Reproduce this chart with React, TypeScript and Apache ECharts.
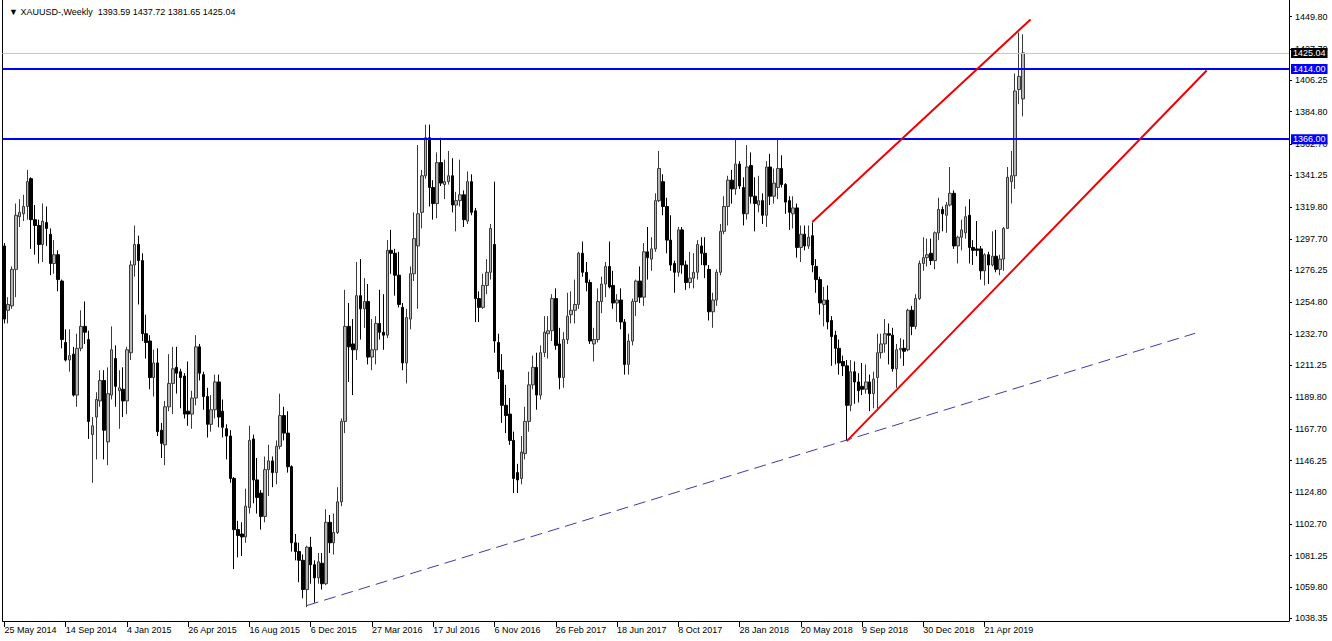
import React, { useEffect, useRef } from "react";
import * as echarts from "echarts";

// Weekly XAUUSD candles [open, high, low, close], first week = 25 May 2014
const w2014 = [
  [1293, 1295, 1240, 1243], [1249, 1258, 1240, 1253], [1252, 1279, 1250, 1277], [1277, 1322, 1258, 1314],
  [1313, 1325, 1306, 1316], [1315, 1328, 1310, 1320], [1320, 1345, 1311, 1337], [1339, 1340, 1291, 1311],
  [1311, 1321, 1287, 1307], [1307, 1311, 1281, 1294], [1294, 1322, 1282, 1310], [1309, 1320, 1293, 1305],
  [1301, 1305, 1273, 1281], [1281, 1297, 1274, 1287], [1287, 1290, 1262, 1270], [1269, 1270, 1223, 1229],
  [1227, 1236, 1214, 1215], [1215, 1236, 1207, 1218], [1219, 1224, 1190, 1191], [1191, 1233, 1183, 1223],
  [1223, 1249, 1221, 1238], [1238, 1255, 1226, 1234], [1229, 1235, 1161, 1173], [1164, 1176, 1131, 1170],
  [1176, 1193, 1147, 1188], [1187, 1208, 1183, 1201], [1201, 1208, 1147, 1167], [1159, 1210, 1143, 1192],
  [1191, 1238, 1188, 1222], [1216, 1225, 1183, 1197], [1194, 1208, 1168, 1196], [1195, 1210, 1176, 1187],
];
const w2015 = [
  [1187, 1224, 1178, 1222], [1220, 1283, 1215, 1280], [1280, 1307, 1272, 1294], [1294, 1300, 1253, 1283],
  [1283, 1288, 1228, 1233], [1233, 1246, 1216, 1227], [1228, 1232, 1195, 1203], [1203, 1222, 1190, 1213],
  [1213, 1223, 1163, 1166], [1167, 1172, 1148, 1158], [1157, 1187, 1143, 1183], [1183, 1219, 1180, 1199],
  [1199, 1224, 1178, 1209], [1210, 1224, 1192, 1206], [1207, 1209, 1182, 1203], [1204, 1206, 1175, 1178],
  [1180, 1214, 1170, 1178], [1178, 1194, 1168, 1189], [1189, 1232, 1184, 1224], [1224, 1226, 1201, 1206],
  [1205, 1207, 1181, 1190], [1190, 1196, 1162, 1171], [1171, 1191, 1166, 1181], [1181, 1205, 1175, 1200],
  [1200, 1205, 1169, 1176], [1180, 1188, 1162, 1169], [1168, 1171, 1147, 1163], [1163, 1167, 1131, 1134],
  [1134, 1135, 1072, 1099], [1099, 1105, 1080, 1095], [1096, 1104, 1081, 1094], [1094, 1127, 1090, 1115],
  [1114, 1170, 1110, 1160], [1161, 1164, 1117, 1133], [1133, 1148, 1110, 1121], [1124, 1126, 1099, 1108],
  [1108, 1149, 1104, 1140], [1140, 1157, 1122, 1146], [1146, 1149, 1128, 1138], [1138, 1160, 1130, 1156],
  [1156, 1192, 1154, 1177], [1177, 1183, 1160, 1165], [1165, 1180, 1138, 1142], [1142, 1143, 1084, 1090],
  [1090, 1096, 1078, 1084], [1084, 1090, 1063, 1078], [1078, 1082, 1052, 1058], [1058, 1088, 1046, 1087],
  [1087, 1094, 1062, 1075], [1075, 1078, 1049, 1066], [1066, 1083, 1062, 1077], [1076, 1083, 1058, 1062],
];
const w2016 = [
  [1062, 1113, 1061, 1104], [1104, 1109, 1083, 1090], [1090, 1110, 1082, 1097], [1097, 1128, 1096, 1118],
  [1118, 1175, 1115, 1173], [1173, 1263, 1165, 1238], [1238, 1254, 1200, 1224], [1226, 1243, 1191, 1222],
  [1222, 1282, 1215, 1259], [1259, 1284, 1229, 1250], [1250, 1271, 1237, 1255], [1255, 1267, 1212, 1217],
  [1217, 1243, 1208, 1222], [1222, 1245, 1212, 1240], [1240, 1263, 1229, 1234], [1234, 1260, 1222, 1232],
  [1232, 1297, 1230, 1290], [1290, 1304, 1274, 1288], [1288, 1291, 1259, 1273], [1273, 1289, 1251, 1253],
  [1251, 1254, 1208, 1213], [1213, 1250, 1199, 1244], [1243, 1279, 1236, 1274], [1274, 1316, 1269, 1298],
  [1293, 1362, 1250, 1315], [1316, 1345, 1305, 1341], [1341, 1376, 1339, 1367], [1367, 1376, 1320, 1333],
  [1333, 1338, 1311, 1322], [1322, 1357, 1312, 1350], [1350, 1367, 1334, 1336], [1335, 1352, 1325, 1337],
  [1337, 1358, 1335, 1341], [1341, 1353, 1316, 1321], [1321, 1330, 1303, 1324], [1324, 1352, 1320, 1328],
  [1328, 1331, 1306, 1311], [1310, 1344, 1308, 1337], [1337, 1342, 1314, 1316], [1317, 1319, 1241, 1257],
  [1257, 1262, 1241, 1251], [1251, 1274, 1250, 1266], [1266, 1284, 1260, 1275], [1275, 1308, 1270, 1305],
  [1294, 1337, 1220, 1228], [1227, 1233, 1202, 1207], [1208, 1219, 1172, 1184], [1184, 1198, 1165, 1177],
  [1178, 1189, 1157, 1160], [1160, 1166, 1124, 1134], [1138, 1144, 1124, 1133], [1134, 1163, 1130, 1152],
];
const w2017 = [
  [1151, 1183, 1147, 1173], [1173, 1207, 1166, 1198], [1198, 1218, 1195, 1210], [1210, 1220, 1181, 1191],
  [1191, 1225, 1188, 1220], [1220, 1245, 1217, 1234], [1233, 1245, 1216, 1235], [1235, 1260, 1228, 1257],
  [1257, 1264, 1222, 1225], [1226, 1237, 1195, 1203], [1203, 1234, 1196, 1229], [1229, 1261, 1226, 1245],
  [1246, 1262, 1240, 1249], [1249, 1270, 1240, 1253], [1253, 1289, 1250, 1288], [1288, 1296, 1272, 1275],
  [1275, 1282, 1262, 1268], [1268, 1270, 1226, 1228], [1226, 1237, 1214, 1229], [1229, 1264, 1227, 1255],
  [1255, 1272, 1247, 1267], [1267, 1282, 1258, 1279], [1279, 1296, 1264, 1265], [1266, 1276, 1250, 1254],
  [1254, 1260, 1241, 1256], [1256, 1264, 1236, 1241], [1241, 1243, 1205, 1212], [1212, 1233, 1205, 1228],
  [1228, 1257, 1225, 1255], [1255, 1270, 1245, 1269], [1269, 1279, 1254, 1258], [1258, 1295, 1252, 1289],
  [1289, 1306, 1270, 1285], [1284, 1299, 1276, 1291], [1291, 1329, 1289, 1324], [1324, 1358, 1323, 1346],
  [1337, 1342, 1314, 1320], [1320, 1326, 1288, 1297], [1297, 1314, 1276, 1280], [1281, 1283, 1261, 1275],
  [1275, 1306, 1272, 1304], [1304, 1306, 1274, 1280], [1280, 1283, 1263, 1268], [1268, 1289, 1264, 1271],
  [1271, 1288, 1264, 1275], [1275, 1297, 1270, 1294], [1293, 1299, 1280, 1288], [1288, 1299, 1271, 1280],
  [1277, 1280, 1242, 1248], [1248, 1261, 1237, 1256], [1256, 1277, 1252, 1275], [1275, 1308, 1273, 1303],
];
const w2018 = [
  [1303, 1327, 1301, 1320], [1320, 1341, 1307, 1338], [1338, 1345, 1322, 1332], [1332, 1366, 1328, 1349],
  [1349, 1351, 1332, 1334], [1333, 1340, 1307, 1315], [1315, 1362, 1311, 1347], [1348, 1357, 1322, 1327],
  [1327, 1340, 1303, 1322], [1321, 1341, 1316, 1324], [1324, 1329, 1308, 1314], [1314, 1351, 1306, 1347],
  [1347, 1356, 1321, 1327], [1327, 1346, 1322, 1336], [1333, 1366, 1325, 1346], [1346, 1355, 1333, 1335],
  [1335, 1336, 1315, 1323], [1324, 1327, 1304, 1316], [1315, 1327, 1305, 1319], [1319, 1322, 1285, 1292],
  [1292, 1307, 1282, 1301], [1301, 1307, 1290, 1293], [1293, 1307, 1291, 1299], [1300, 1309, 1275, 1280],
  [1279, 1284, 1261, 1270], [1270, 1272, 1246, 1254], [1253, 1265, 1238, 1256], [1256, 1266, 1236, 1241],
  [1242, 1245, 1211, 1231], [1232, 1235, 1212, 1223], [1223, 1229, 1205, 1213], [1214, 1218, 1204, 1211],
  [1211, 1215, 1160, 1184], [1184, 1215, 1180, 1207], [1207, 1214, 1185, 1200], [1200, 1206, 1186, 1194],
  [1197, 1213, 1191, 1195], [1195, 1212, 1192, 1200], [1200, 1205, 1180, 1192], [1192, 1207, 1182, 1202],
  [1203, 1233, 1182, 1220], [1220, 1233, 1216, 1226], [1226, 1243, 1220, 1233], [1233, 1240, 1212, 1232],
  [1232, 1237, 1207, 1209], [1209, 1226, 1196, 1222], [1222, 1230, 1216, 1223], [1223, 1229, 1211, 1221],
  [1222, 1250, 1221, 1249], [1249, 1252, 1232, 1238], [1238, 1260, 1236, 1257], [1257, 1283, 1256, 1281],
];
const w2019 = [
  [1281, 1299, 1276, 1285], [1285, 1298, 1279, 1287], [1288, 1298, 1280, 1283], [1283, 1303, 1277, 1302],
  [1302, 1326, 1297, 1318], [1318, 1320, 1303, 1315], [1314, 1323, 1302, 1321], [1321, 1347, 1320, 1329],
  [1329, 1331, 1291, 1293], [1293, 1300, 1281, 1299], [1299, 1311, 1290, 1304], [1302, 1320, 1298, 1313],
  [1314, 1325, 1281, 1292], [1292, 1297, 1280, 1290], [1291, 1310, 1286, 1290], [1291, 1293, 1270, 1276],
  [1276, 1288, 1266, 1287], [1287, 1289, 1267, 1280], [1280, 1303, 1279, 1286], [1286, 1304, 1275, 1277],
  [1277, 1287, 1273, 1284], [1284, 1306, 1276, 1305], [1305, 1347, 1305, 1340], [1337, 1358, 1322, 1341],
  [1341, 1411, 1332, 1399], [1400, 1439, 1390, 1409], [1393.59, 1437.72, 1381.65, 1425.04],
];

const xTickLabels = [
  "25 May 2014", "14 Sep 2014", "4 Jan 2015", "26 Apr 2015", "16 Aug 2015", "6 Dec 2015",
  "27 Mar 2016", "17 Jul 2016", "6 Nov 2016", "26 Feb 2017", "18 Jun 2017", "8 Oct 2017",
  "28 Jan 2018", "20 May 2018", "9 Sep 2018", "30 Dec 2018", "21 Apr 2019",
];
const yTicks = [
  1038.35, 1059.8, 1081.25, 1102.7, 1124.8, 1146.25, 1167.7, 1189.8, 1211.25, 1232.7,
  1254.8, 1276.25, 1297.7, 1319.8, 1341.25, 1362.7, 1384.8, 1406.25, 1427.7, 1449.8,
];
const levelLines = [1414.0, 1366.0];
const lastPrice = 1425.04;
const headerText = "XAUUSD-,Weekly  1393.59 1437.72 1381.65 1425.04";
const channelUpper = [[211, 1309.4], [268, 1447.9]];
const channelLower = [[220, 1159.5], [314, 1413.0]];
const supportLine = [[79, 1047.1], [311, 1233.3]];
const TOTAL_SLOTS = 336;
const TICK_STEP = 16;

const FONT = "'Liberation Sans', Arial, sans-serif";

export default function App() {
  const ref = useRef<HTMLDivElement>(null);
  useEffect(() => {
    if (!ref.current) return;
    const chart = echarts.init(ref.current, undefined, { renderer: "svg" });
    const weekly = [...w2014, ...w2015, ...w2016, ...w2017, ...w2018, ...w2019];
    const cats = Array.from({ length: TOTAL_SLOTS }, (_, i) => String(i));
    const candleData = weekly.map(([o, h, l, c]) => [o, c, l, h]);
    const showTick = (index: number) =>
      index % TICK_STEP === 0 && index / TICK_STEP < xTickLabels.length;
    const priceLabel = (bg: string) => ({
      show: true,
      position: "end",
      distance: 2,
      formatter: (p: any) => Number(p.value).toFixed(2),
      backgroundColor: bg,
      color: "#fff",
      padding: [1, 2, 0, 2],
      fontSize: 9,
      fontFamily: FONT,
    });
    chart.setOption({
      animation: false,
      backgroundColor: "#ffffff",
      title: {
        text: "▼ " + headerText,
        left: 4,
        top: 2,
        textStyle: { fontSize: 9, fontWeight: "normal", color: "#000", fontFamily: FONT },
      },
      grid: { left: 2.5, top: 0, width: 1286.5, height: 621, show: false },
      xAxis: {
        type: "category",
        data: cats,
        boundaryGap: true,
        axisLine: { show: true, lineStyle: { color: "#000", width: 1 } },
        axisTick: { show: true, alignWithLabel: true, interval: showTick, length: 6, lineStyle: { color: "#000" } },
        axisLabel: {
          interval: showTick,
          formatter: (_v: string, idx: number) => xTickLabels[idx / TICK_STEP] ?? "",
          align: "left",
          margin: 4,
          color: "#000",
          fontSize: 9,
          fontFamily: FONT,
        },
        splitLine: { show: false },
      },
      yAxis: {
        type: "value",
        position: "right",
        min: 1036.5,
        max: 1461.22,
        axisLine: { show: true, lineStyle: { color: "#000", width: 1 } },
        axisTick: { show: true, length: 3, customValues: yTicks, lineStyle: { color: "#000" } },
        axisLabel: {
          customValues: yTicks,
          formatter: (v: number) => v.toFixed(2),
          margin: 6,
          color: "#000",
          fontSize: 9,
          fontFamily: FONT,
        },
        splitLine: { show: false },
      },
      graphic: [
        {
          type: "line",
          shape: { x1: 2.5, y1: 0, x2: 2.5, y2: 621 },
          style: { stroke: "#000", lineWidth: 1 },
          silent: true,
        },
      ],
      series: [
        {
          type: "candlestick",
          data: candleData,
          barWidth: 3,
          itemStyle: {
            color: "#b4b4b4",
            color0: "#000000",
            borderColor: "#3a3a3a",
            borderColor0: "#000000",
            borderWidth: 1,
          },
          markLine: {
            symbol: "none",
            silent: true,
            animation: false,
            data: [
              { yAxis: lastPrice, lineStyle: { color: "#c8c8c8", width: 1, type: "solid" }, label: priceLabel("#000000") },
              ...levelLines.map((v) => ({
                yAxis: v,
                lineStyle: { color: "#0000ff", width: 2, type: "solid" },
                label: priceLabel("#0000ff"),
              })),
            ],
          },
        },
        {
          type: "line",
          data: channelUpper,
          showSymbol: false,
          lineStyle: { color: "#f00000", width: 2 },
          z: 5,
        },
        {
          type: "line",
          data: channelLower,
          showSymbol: false,
          lineStyle: { color: "#f00000", width: 2 },
          z: 5,
        },
        {
          type: "line",
          data: supportLine,
          showSymbol: false,
          lineStyle: { color: "#3c3ca8", width: 1, type: [12, 6] },
          z: 5,
        },
      ],
    });
    return () => chart.dispose();
  }, []);
  return (
    <div
      ref={ref}
      style={{ position: "fixed", left: 0, top: 0, width: 1332, height: 641, background: "#fff" }}
    />
  );
}
